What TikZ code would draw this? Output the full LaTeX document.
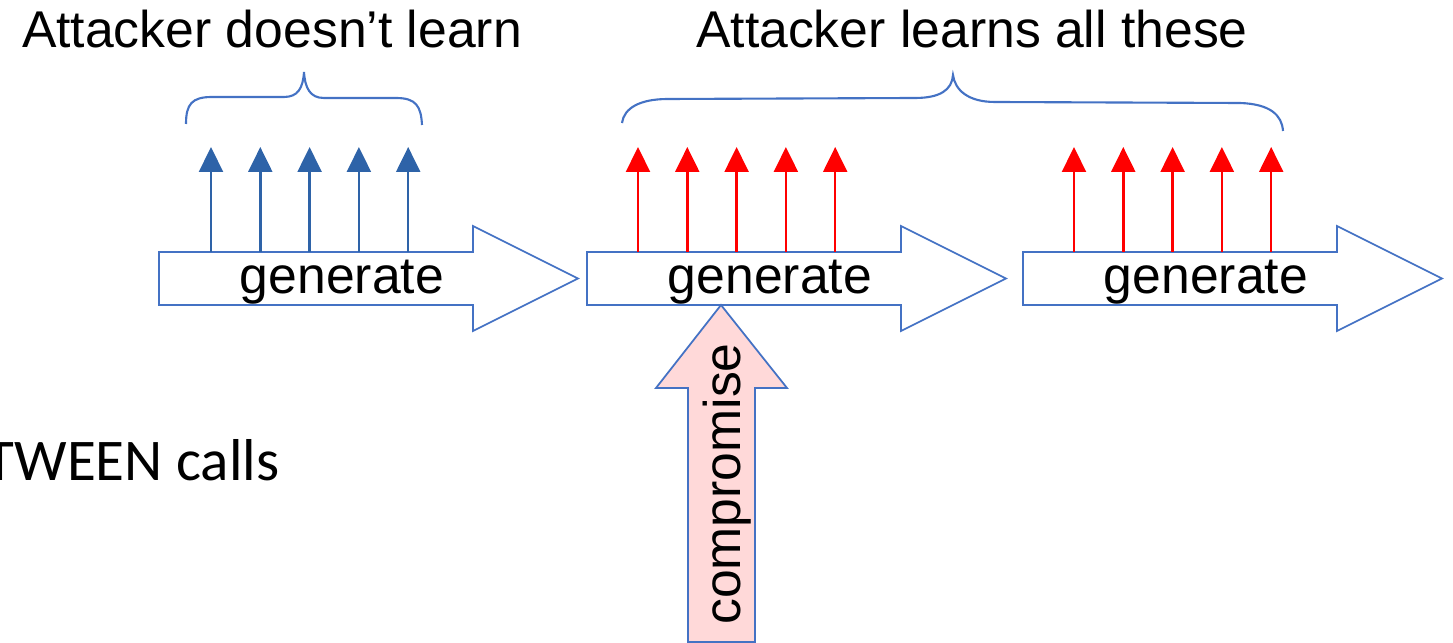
\documentclass[tikz,border=0pt]{standalone}
\usepackage{fontspec}
\setmainfont{Liberation Sans}
\newfontfamily\calibrifont{Carlito}
\usetikzlibrary{arrows.meta,calc}
\definecolor{Outline}{RGB}{68,114,196}
\definecolor{SafeBlue}{RGB}{46,99,168}
\definecolor{LeakRed}{RGB}{255,0,0}
\definecolor{CompPink}{RGB}{255,217,217}
\tikzset{
  blockarrow/.style={draw=Outline,line width=0.5pt,line join=miter,fill=white},
  brace/.style={draw=Outline,line width=0.6pt},
  safe/.style={SafeBlue,line width=0.7pt,-{Triangle[width=6.8pt,length=7.1pt]}},
  leaked/.style={LeakRed,line width=0.7pt,-{Triangle[width=6.8pt,length=7.1pt]}},
  lbl/.style={font=\fontsize{14.7}{17}\selectfont,inner sep=0pt}
}

\begin{document}
\begin{tikzpicture}[x=0.01cm,y=-0.01cm]
  \useasboundingbox (0,0) rectangle (1453,643);
  % three generate calls
  \foreach \i/\l in {1/159,2/587,3/1023} {
    \draw[blockarrow] (\l,252) -- ++(314,0) -- ++(0,-26) -- ++(105,52.5)
      -- ++(-105,52.5) -- ++(0,-26) -- ++(-314,0) -- cycle;
    \coordinate (top\i) at (\l,252);
    \node[lbl,anchor=base] (gen\i) at (\l+183,294) {generate};
  }
  % outputs of each call
  \foreach \k in {0,...,4} {
    \draw[safe] ($(top1)+(52+49.3*\k,0)$) -- ++(0,-105);
    \draw[leaked] ($(top2)+(51+49.3*\k,0)$) -- ++(0,-105);
    \draw[leaked] ($(top3)+(51+49.3*\k,0)$) -- ++(0,-105);
  }
  % braces
  \draw[brace] (186,124) .. controls (186,104) and (192,97) .. (212,97) -- (284,97)
    .. controls (298,97) and (303,88) .. (304,72)
    .. controls (305,88) and (310,98) .. (324,98) -- (396,98)
    .. controls (416,98) and (421,106) .. (422,125);
  \draw[brace] (622,123) .. controls (624,108) and (640,99) .. (668,99) -- (915,98)
    .. controls (940,98) and (952,90) .. (953,75)
    .. controls (955,90) and (968,102) .. (995,102) -- (1240,103)
    .. controls (1270,104) and (1282,115) .. (1283,131);
  \node[lbl,anchor=base] (nolearn) at (272,48) {Attacker doesn’t learn};
  \node[lbl,anchor=base] (learns) at (972,48) {Attacker learns all these};
  % compromise
  \draw[blockarrow,fill=CompPink] (688,642) -- (688,388) -- (656,388) -- (721,305)
    -- (787,388) -- (755,388) -- (755,642) -- cycle;
  \node[lbl,rotate=90,anchor=base] (comp) at (740,484) {compromise};
  \node[font=\calibrifont\fontsize{16.8}{20}\selectfont,inner sep=0pt,anchor=base east]
    (between) at (280,481) {TWEEN calls};
\end{tikzpicture}
\end{document}
